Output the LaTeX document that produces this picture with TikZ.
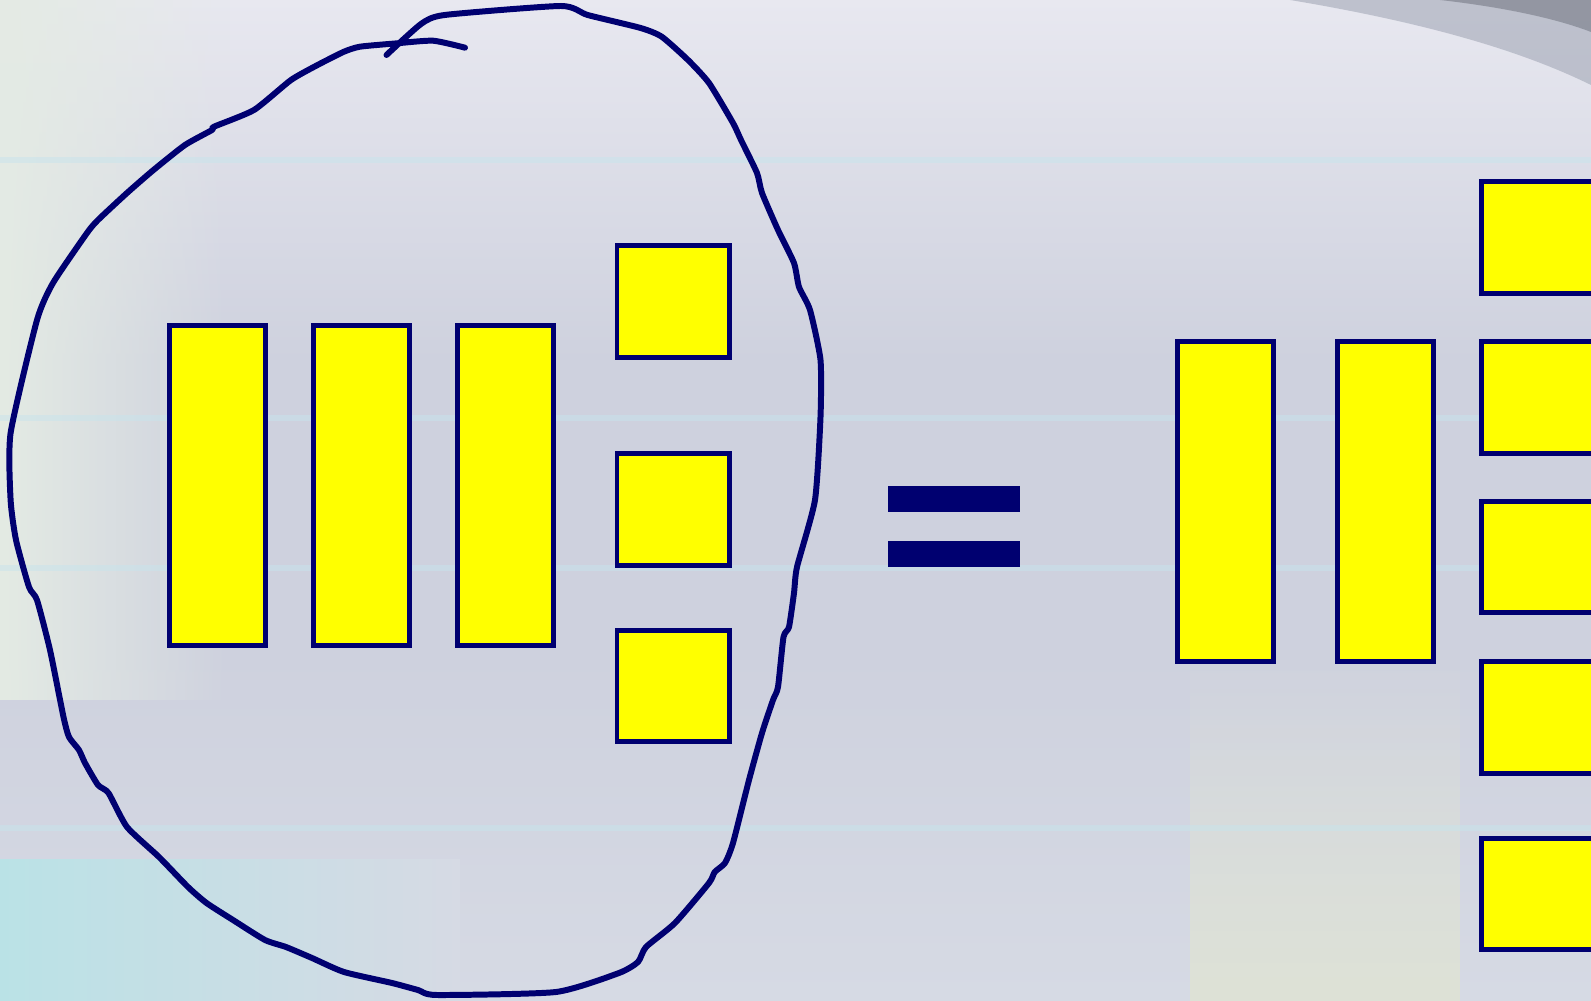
\documentclass[tikz,border=0pt]{standalone}
\usepackage{tikz}
\usetikzlibrary{positioning,fadings}

\definecolor{navy}{RGB}{0,0,112}
\definecolor{boxyellow}{RGB}{255,255,0}
\definecolor{bgbase}{RGB}{206,209,222}
\definecolor{bgtop}{RGB}{232,232,240}
\definecolor{bgleft}{RGB}{228,235,228}
\definecolor{bgcyan}{RGB}{186,226,230}
\definecolor{bglow}{RGB}{214,218,228}
\definecolor{bggreen}{RGB}{222,226,214}
\definecolor{swoosh}{RGB}{150,156,172}
\definecolor{streak}{RGB}{200,228,236}

\begin{document}
\begin{tikzpicture}[x=0.01cm, y=-0.01cm,
    bar/.style={draw=navy, line width=1.4pt, fill=boxyellow, inner sep=0pt, outer sep=0pt,
      minimum width=0.963cm, minimum height=3.197cm},
    sq/.style={bar, minimum width=1.126cm, minimum height=1.116cm},
    eqbar/.style={fill=navy, inner sep=0pt, outer sep=0pt, minimum width=1.319cm, minimum height=0.264cm},
    lasso/.style={draw=navy, line width=1.7pt, line join=round, line cap=round},
  ]
  \clip (0,0) rectangle (1591,1001);

  % slide background
  \fill[bgbase] (0,0) rectangle (1591,1001);
  \shade[top color=bgtop, bottom color=bgbase] (0,0) rectangle (1591,360);
  \shade[top color=bgbase, bottom color=bglow] (0,650) rectangle (1591,1001);
  \fill[bgleft, path fading=east] (0,0) rectangle (230,700);
  \shade[left color=bgcyan, right color=bglow] (0,860) rectangle (460,1001);
  \fill[bggreen, path fading=north] (1190,650) rectangle (1460,1001);
  \fill[swoosh, opacity=0.5] (1290,0) .. controls (1440,25) and (1530,55) .. (1591,85) -- (1591,0) -- cycle;
  \fill[swoosh!70!black, opacity=0.5] (1440,0) .. controls (1510,8) and (1560,20) .. (1591,32) -- (1591,0) -- cycle;
  \foreach \yy in {160,418,568,828}
    \draw[streak, line width=1.5pt, opacity=0.5] (0,\yy) -- (1591,\yy);

  % left group
  \node[bar] (bar1) at (217.6,485.5) {};
  \node[bar, right=0.477cm of bar1] (bar2) {};
  \node[bar, right=0.477cm of bar2] (bar3) {};
  \node[sq] (sq1) at (673.3,301.4) {};
  \node[sq] (sq2) at (673.3,509.4) {};
  \node[sq] (sq3) at (673.3,685.9) {};

  % freehand lasso round the left group
  \draw[lasso] plot[smooth, tension=0.35] coordinates {
    (465,47.7) (433,40.7) (395,43.5) (360,46.7) (344,51.7) (317.6,65) (291,80)
    (254,110) (214,126.7) (212,130) (185,145) (153.5,170) (127,193) (98,220)
    (87,233) (53,283) (37,320) (10.6,433) (10.6,500) (16,540) (29,587) (37,600)
    (50,650) (63.5,717) (69,737) (79,750) (85,763) (98,785) (108.5,793)
    (127,827) (159,857) (188,887) (206.5,903) (233,920) (265,940) (286,947)
    (312,958) (344,972) (392,983) (418,990) (436.7,995) (556,992) (619,973)
    (638,962) (646,947) (675,923) (709,883) (714.7,872) (725,863) (733,843)
    (749,780) (762,733) (773,700) (778,687) (783.5,637) (789,627) (794,593)
    (797,567) (815,500) (820.5,417) (820.5,360) (810,310) (799,287) (794,263)
    (778,230) (762,193) (757,173) (741,140) (733,123) (709,83) (688,60)
    (661.7,36.7) (640.6,28) (587.6,15) (561,6) (444.7,15) (421,24) (386.5,55)};

  % equals sign
  \node[eqbar] (eqtop) at (953.9,499.2) {};
  \node[eqbar] (eqbot) at (953.9,554) {};

  % right group
  \node[bar] (rbar1) at (1225.2,501.8) {};
  \node[bar, right=0.64cm of rbar1] (rbar2) {};
  \node[sq] (rsq1) at (1537.8,237.4) {};
  \node[sq] (rsq2) at (1537.8,397.8) {};
  \node[sq] (rsq3) at (1537.8,557.1) {};
  \node[sq] (rsq4) at (1537.8,717.4) {};
  \node[sq] (rsq5) at (1537.8,894) {};
\end{tikzpicture}
\end{document}
